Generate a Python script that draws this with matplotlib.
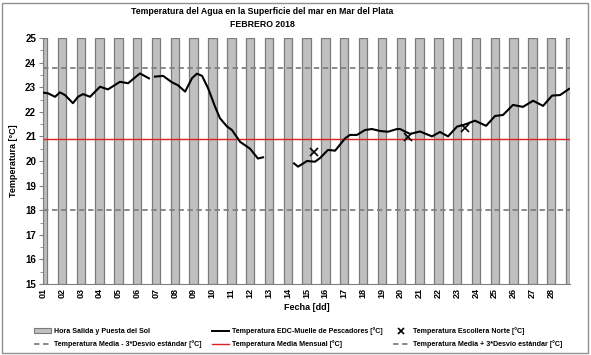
import matplotlib
matplotlib.use("Agg")
import matplotlib.pyplot as plt
from matplotlib.patches import Rectangle
from matplotlib.lines import Line2D
import numpy as np

plt.rcParams['font.family'] = ['Liberation Sans', 'DejaVu Sans']
plt.rcParams['font.weight'] = 'bold'

title = "Temperatura del Agua en la Superficie del mar en Mar del Plata\nFEBRERO 2018"
days = list(range(1, 29))
day_labels = [f"{d:02d}" for d in days]

# night period (hours): sunset of previous day, sunrise of the day
sunset_h = [18.8] * 29
sunrise_h = [5.5] * 29

# EDC - Muelle de Pescadores (day of month as fractional value, temperature)
seg1_day = [1.00, 1.27, 1.64, 1.90, 2.17, 2.59, 2.86, 3.13, 3.50, 4.03, 4.45, 5.09, 5.52, 6.15, 6.63]
seg1_temp = [22.78, 22.75, 22.61, 22.79, 22.68, 22.35, 22.61, 22.72, 22.61, 23.02, 22.91, 23.22, 23.16, 23.56, 23.36]
seg2_day = [6.95, 7.38, 7.85, 8.17, 8.55, 8.92, 9.18, 9.45, 9.77, 10.14, 10.40, 10.78, 11.04, 11.47, 12.00, 12.42, 12.69]
seg2_temp = [23.43, 23.46, 23.20, 23.08, 22.82, 23.37, 23.55, 23.46, 22.96, 22.21, 21.74, 21.40, 21.26, 20.78, 20.50, 20.10, 20.15]
seg3_day = [14.34, 14.55, 15.03, 15.45, 15.72, 16.14, 16.52, 17.05, 17.31, 17.68, 18.11, 18.48, 18.91, 19.33,
            19.81, 19.97, 20.50, 21.03, 21.67, 22.09, 22.52, 23.00, 23.32, 23.58, 23.95, 24.54, 25.02, 25.44,
            25.97, 26.50, 27.04, 27.57, 28.05, 28.47, 28.95]
seg3_temp = [19.90, 19.77, 20.00, 19.97, 20.12, 20.45, 20.42, 20.92, 21.06, 21.06, 21.26, 21.30, 21.22, 21.19,
             21.30, 21.30, 21.10, 21.20, 21.00, 21.18, 21.00, 21.40, 21.46, 21.53, 21.64, 21.43, 21.83, 21.87,
             22.28, 22.20, 22.45, 22.24, 22.66, 22.68, 22.93]

# Escollera Norte
esc_day = [15.40, 20.39, 23.42]
esc_temp = [20.35, 20.96, 21.33]

mean_temp = 20.9
low_temp = 18.0
high_temp = 23.8

fig = plt.figure(figsize=(5.91, 3.55), dpi=100)
ax = fig.add_axes([43/591, 1-284/355, (570-43)/591, (284-38)/355])

# night bars
for i in range(29):
    start = (i + 1) + (sunset_h[i] - 24) / 24.0
    end = (i + 1) + sunrise_h[i] / 24.0
    s = max(start, 1.0)
    e = min(end, 29.0)
    ax.bar(s, 10, width=e - s, bottom=15, align='edge', color='#C0C0C0',
           edgecolor='#7A7A7A', linewidth=0.9, zorder=1)

ax.axhline(low_temp, color='#808080', lw=1.3, ls=(0, (3, 2)), zorder=2)
ax.axhline(high_temp, color='#808080', lw=1.3, ls=(0, (3, 2)), zorder=2)
ax.axhline(mean_temp, color='#E02020', lw=1.0, zorder=2)

for dd, tt in [(seg1_day, seg1_temp), (seg2_day, seg2_temp), (seg3_day, seg3_temp)]:
    ax.plot(dd, tt, color='black', lw=1.5, zorder=3, solid_joinstyle='round')
ax.plot(esc_day, esc_temp, ls='none', marker='x', color='black', ms=5.5, mew=1.2, zorder=4)

ax.set_xlim(1, 29)
ax.set_ylim(15, 25)
ax.set_xticks(days)
ax.set_xticklabels(day_labels, rotation=90, fontsize=6.5, fontweight='bold')
ax.set_yticks(range(15, 26))
ax.set_yticks(np.arange(15.5, 25, 1.0), minor=True)
ax.tick_params(axis='y', labelsize=7, length=3, color='#808080', pad=2)
ax.tick_params(axis='y', which='minor', length=2, color='#808080')
ax.tick_params(axis='x', length=0, pad=3)
for lab in ax.get_yticklabels():
    lab.set_fontweight('bold')
for sp in ['top', 'right']:
    ax.spines[sp].set_visible(False)
for sp in ['left', 'bottom']:
    ax.spines[sp].set_color('#808080')

ax.set_xlabel("Fecha [dd]", fontsize=6.5, fontweight='bold', labelpad=3)
ax.set_ylabel("Temperatura [°C]", fontsize=6.5, fontweight='bold', labelpad=5)
fig.text(262/591, 1-18/355, title, ha='center', va='center', fontsize=6.3, fontweight='bold', linespacing=1.6)

# figure border
fig.add_artist(Rectangle((2/591, 2/355), 586/591, 350/355, transform=fig.transFigure,
                         fill=False, edgecolor='#909090', lw=1.0))

h_bar = Rectangle((0, 0), 1, 1, facecolor='#C0C0C0', edgecolor='#7A7A7A', lw=0.8)
h_low = Line2D([], [], color='#808080', lw=1.3, ls=(0, (3, 2)))
h_line = Line2D([], [], color='black', lw=1.4)
h_mean = Line2D([], [], color='#E02020', lw=1.0)
h_x = Line2D([], [], ls='none', marker='x', color='black', ms=5, mew=1.2)
h_high = Line2D([], [], color='#808080', lw=1.3, ls=(0, (3, 2)))
labels = ["Hora Salida y Puesta del Sol", "Temperatura Media - 3*Desvío estándar [°C]",
          "Temperatura EDC-Muelle de Pescadores [°C]", "Temperatura Media Mensual [°C]",
          "Temperatura Escollera Norte [°C]", "Temperatura Media + 3*Desvío estándar [°C]"]
leg = fig.legend([h_bar, h_low, h_line, h_mean, h_x, h_high], labels, ncol=3,
                 loc='lower left', bbox_to_anchor=(31/591, 4/355), frameon=False,
                 prop={'size': 5.1, 'weight': 'bold'}, handlelength=2.4, handletextpad=0.4,
                 columnspacing=1.5, labelspacing=0.75, borderaxespad=0)

fig.savefig("out.png", dpi=100)
